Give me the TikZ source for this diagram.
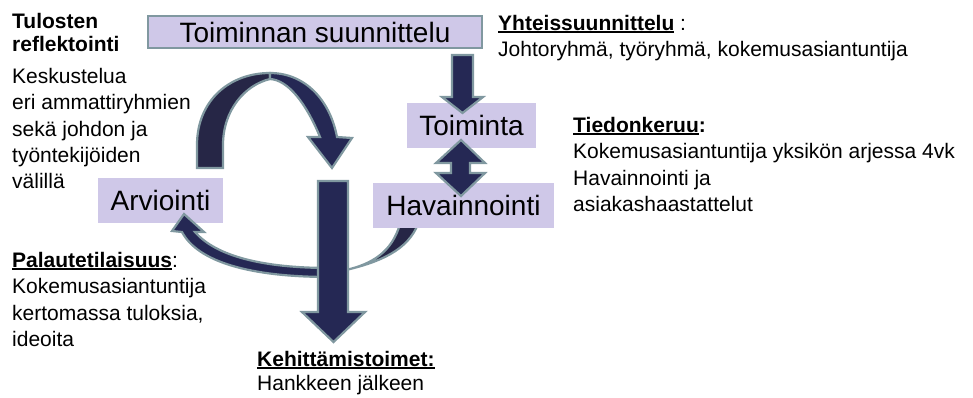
\documentclass[tikz,border=0pt]{standalone}
\usepackage{fontspec}
\setmainfont{Liberation Sans}
\definecolor{boxfill}{RGB}{207,200,232}
\definecolor{navy}{RGB}{37,40,84}
\definecolor{navydark}{RGB}{38,38,70}
\definecolor{rim}{RGB}{128,152,160}
\newcommand\uln[1]{\setbox0\hbox{#1}\rlap{\rule[-2.6pt]{\wd0}{1.7pt}}\box0}
\begin{document}
\begin{tikzpicture}[x=1pt,y=-1pt,
  lbl/.style={fill=boxfill, inner sep=0, font=\fontsize{28}{32}\selectfont},
  side/.style={anchor=north west, inner sep=0, align=left, font=\fontsize{21}{26.3}\selectfont},
  blk/.style={fill=navy, draw=rim, line width=2.2pt, line join=miter}]
\useasboundingbox (0,0) rectangle (973,398);
% crescent behind Havainnointi box
\draw[blk, fill=navydark] (400,224) .. controls (392,252) and (372,264) .. (346,270)
  .. controls (380,262) and (408,250) .. (418,224) -- cycle;
% boxes
\node[lbl, draw=rim, line width=2.5pt, minimum width=334pt, minimum height=32pt] (plan) at (315,32) {Toiminnan suunnittelu};
\node[lbl, minimum width=129pt, minimum height=45pt] (act) at (471.5,125.5) {Toiminta};
\node[lbl, minimum width=181pt, minimum height=45pt] (obs) at (463.5,205.5) {Havainnointi};
\node[lbl, minimum width=125pt, minimum height=45pt] (eval) at (160.5,200.5) {Arviointi};
% curved arrow to Arviointi
\draw[blk] (330,268) .. controls (262,268) and (216,256) .. (195,232) -- (204,232) -- (184,214)
  -- (172,231) -- (182,232) .. controls (198,262) and (250,277) .. (330,277) -- cycle;
% big vertical arrow
\draw[blk] (318,181) -- (348,181) -- (348,312) -- (365,312) -- (333.5,342) -- (302,312) -- (318,312) -- cycle;
% arch arrow: left half
\draw[blk, fill=navydark] (197,168) -- (197,145) .. controls (197,100) and (230,73) .. (270,73)
  -- (270,79) .. controls (245,85) and (223,110) .. (223,145) -- (223,168) -- cycle;
% arch arrow: right half with head
\draw[blk] (270,73) .. controls (305,73) and (330,100) .. (337,137) -- (352,138) -- (332,168) -- (308,137) -- (320,137)
  .. controls (306,103) and (288,80) .. (270,79) -- cycle;
% down arrow plan -> act
\draw[blk] (452,55) -- (473,55) -- (473,97) -- (483,97) -- (462.5,113) -- (442,97) -- (452,97) -- cycle;
% double arrow act <-> obs
\draw[blk] (461,140) -- (485,163) -- (470,163) -- (470,173) -- (485,173) -- (461,196) -- (436,173) -- (451,173) -- (451,163) -- (436,163) -- cycle;
% texts
\node[side, font=\fontsize{21}{23.5}\selectfont\bfseries] (refl) at (12,13) {Tulosten\\reflektointi};
\node[side] (refltxt) at (12,68) {Keskustelua\\eri ammattiryhmien\\sekä johdon ja\\työntekijöiden\\välillä};
\node[side] (yht) at (498,15) {\uln{\textbf{Yhteissuunnittelu}}~:\\Johtoryhmä, työryhmä, kokemusasiantuntija};
\node[side] (tied) at (573,117) {\uln{\textbf{Tiedonkeruu}}\textbf{:}\\Kokemusasiantuntija yksikön arjessa 4vk\\Havainnointi ja\\asiakashaastattelut};
\node[side] (pal) at (12,252) {\uln{\textbf{Palautetilaisuus}}:\\Kokemusasiantuntija\\kertomassa tuloksia,\\ideoita};
\node[side, font=\fontsize{21}{24.5}\selectfont] (keh) at (257,351) {\uln{\textbf{Kehittämistoimet:}}\\Hankkeen jälkeen};
\end{tikzpicture}
\end{document}
